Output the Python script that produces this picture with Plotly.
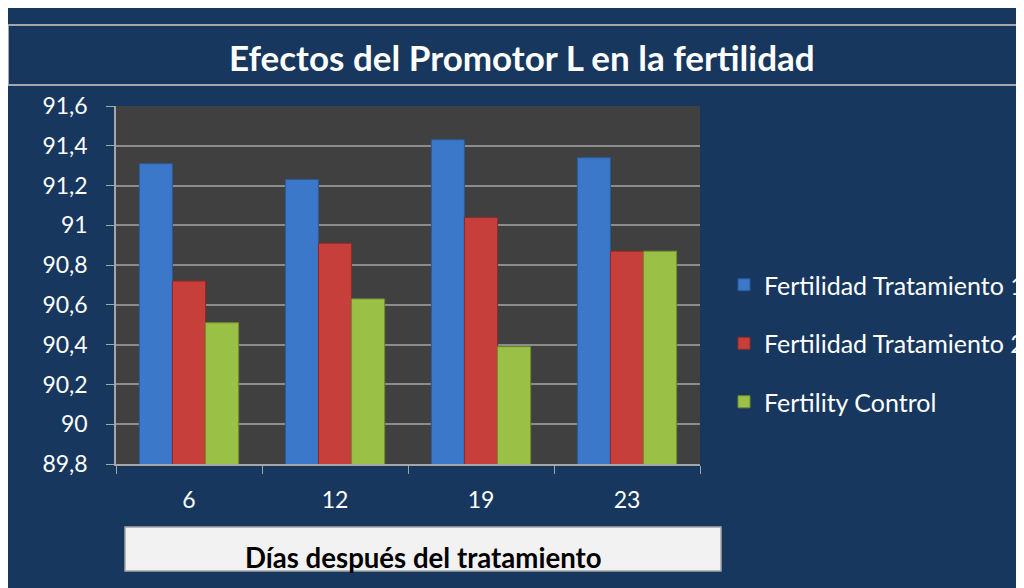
import plotly.graph_objects as go

categories = ["6", "12", "19", "23"]
series_names = ["Fertilidad Tratamiento 1", "Fertilidad Tratamiento 2", "Fertility Control"]
tratamiento1 = [91.31, 91.23, 91.43, 91.34]
tratamiento2 = [90.72, 90.91, 91.04, 90.87]
control = [90.51, 90.63, 90.39, 90.87]
y_tickvals = [89.8, 90.0, 90.2, 90.4, 90.6, 90.8, 91.0, 91.2, 91.4, 91.6]
y_ticktext = ["89,8", "90", "90,2", "90,4", "90,6", "90,8", "91", "91,2", "91,4", "91,6"]

colors = ["#3B78C9", "#C63F3B", "#9BC046"]
edge = ["#2A5A9A", "#8E2A27", "#6F8E2E"]
values = [tratamiento1, tratamiento2, control]

NAVY = "#17375E"
OFF = 8  # page body margin
W, H = 1024, 588
# plot area in screen pixels
SL, SR, ST, SB = 116, 700, 106, 464
L, R, T, B = SL - OFF, SR - OFF, ST - OFF, SB - OFF


def px(x):  # screen x -> paper
    return (x - SL) / (SR - SL)


def py(y):  # screen y -> paper
    return (SB - y) / (SB - ST)


fig = go.Figure()
for i in range(3):
    fig.add_trace(go.Bar(
        x=categories, y=values[i], name=series_names[i],
        marker=dict(color=colors[i], line=dict(color=edge[i], width=1)),
        legendgroup=f"g{i}",
    ))

shapes = [
    # title box
    dict(type="rect", xref="paper", yref="paper", x0=px(8), x1=px(1040), y0=py(85), y1=py(25),
         fillcolor=NAVY, line=dict(color="#A6A6A6", width=2), layer="below"),
    # x axis title box
    dict(type="rect", xref="paper", yref="paper", x0=px(125), x1=px(721), y0=py(571), y1=py(527),
         fillcolor="#F2F2F2", line=dict(color="#A6A6A6", width=1.5), layer="above"),
]

annotations = [
    dict(text="<b>Efectos del Promotor L en la fertilidad</b>", xref="paper", yref="paper",
         x=px(522), y=py(57), xanchor="center", yanchor="middle", showarrow=False,
         font=dict(family="Lato", size=35, color="white")),
    dict(text="<b>Días después del tratamiento</b>", xref="paper", yref="paper",
         x=px(423), y=py(557), xanchor="center", yanchor="middle", showarrow=False,
         font=dict(family="Lato", size=27.6, color="black")),
]

fig.update_layout(
    width=W, height=H,
    margin=dict(l=L, r=W - R, t=T, b=H - B, pad=0, autoexpand=False),
    paper_bgcolor=NAVY, plot_bgcolor="#404040",
    font=dict(family="Lato", color="white", size=20),
    barmode="group", bargap=0.32, bargroupgap=0,
    showlegend=True,
    legend=dict(x=px(724), y=py(262), xanchor="left", yanchor="top",
                font=dict(family="Lato", size=25, color="white"),
                bgcolor="rgba(0,0,0,0)", tracegroupgap=23, traceorder="grouped"),
    shapes=shapes, annotations=annotations,
    xaxis=dict(type="category", showgrid=False, showline=True, linecolor="#A6A6A6", linewidth=1.5,
               ticks="outside", tickson="boundaries", ticklen=8, tickcolor="#A6A6A6",
               ticklabelstandoff=15,
               tickfont=dict(size=23, color="white"), zeroline=False),
    yaxis=dict(range=[89.8, 91.6], tickvals=y_tickvals, ticktext=y_ticktext,
               showgrid=True, gridcolor="#8C8C8C", gridwidth=1.5,
               showline=True, linecolor="#A6A6A6", linewidth=1.5,
               ticks="outside", ticklen=8, tickcolor="#A6A6A6",
               ticklabelstandoff=14,
               tickfont=dict(size=23, color="white"), zeroline=False),
)

fig.write_html("out.html")
